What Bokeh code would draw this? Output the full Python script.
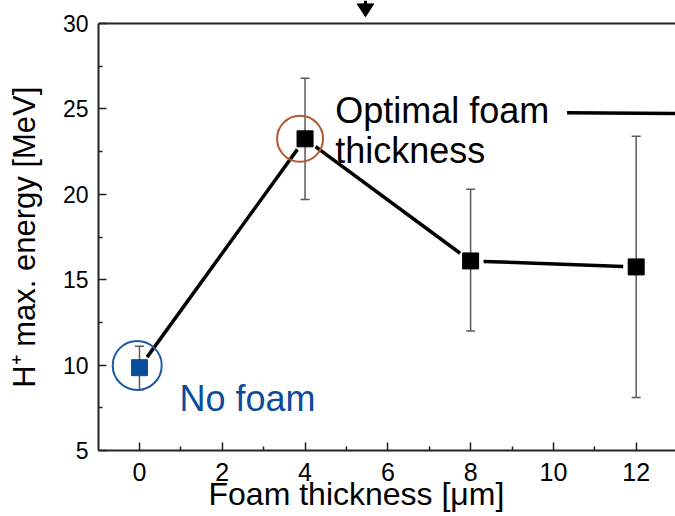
import numpy as np
from bokeh.plotting import figure
from bokeh.models import Range1d, FixedTicker, Label, Title
from bokeh.embed import file_html
from bokeh.resources import INLINE

# ---- data ----
thickness = [0, 4, 8, 12]
energy = [9.85, 23.25, 16.1, 15.75]
err_upper = [11.1, 26.8, 20.3, 23.4]
err_lower = [8.55, 19.7, 12.0, 8.1]
marker_colors = ["#0b4c9c", "black", "black", "black"]

x_ticks = [0, 2, 4, 6, 8, 10, 12]
x_minor = [1, 3, 5, 7, 9, 11]
y_ticks = [5, 10, 15, 20, 25, 30]
y_minor = [7.5, 12.5, 17.5, 22.5, 27.5]

highlight_x = [-0.055, 3.88]
highlight_y = [9.98, 23.25]
highlight_colors = ["#1d5aa0", "#b8582e"]
highlight_sizes = [49, 46]

arrow_x = 5.46

FONT = "Liberation Sans"

# ---- layout ----
W, H = 675, 516
BL, BB = 98, 66
FW, FH = W - BL, H - BB
X0, X1 = -0.99, 12.95
Y0, Y1 = 5.0, 31.35
kx = FW / (X1 - X0)
ky = FH / (Y1 - Y0)

p = figure(width=W, height=H, x_range=Range1d(X0, X1), y_range=Range1d(Y0, Y1),
           output_backend="svg", toolbar_location=None,
           min_border_left=BL, min_border_bottom=BB, min_border_top=0, min_border_right=0)
p.outline_line_color = None
p.grid.visible = False

# top frame line
p.segment(x0=[X0], y0=[30], x1=[X1], y1=[30], line_color="#222222", line_width=2)

# arrow at top
p.patch([arrow_x - 0.2, arrow_x + 0.2, arrow_x], [31.15, 31.15, 30.40], color="black")
p.segment(x0=[arrow_x], y0=[Y1], x1=[arrow_x], y1=[31.08], line_color="black", line_width=3)

# error bars
eb_color = "#5a5a5a"
p.segment(x0=thickness, y0=err_lower, x1=thickness, y1=err_upper, line_color=eb_color, line_width=1.5)
p.scatter(thickness, err_upper, marker="dash", size=9, line_color=eb_color, line_width=1.5)
p.scatter(thickness, err_lower, marker="dash", size=9, line_color=eb_color, line_width=1.5)

# connecting line with gaps at markers
gap = 13.0
sx0, sy0, sx1, sy1 = [], [], [], []
for i in range(len(thickness) - 1):
    ax_, ay_ = thickness[i] * kx, energy[i] * ky
    bx_, by_ = thickness[i + 1] * kx, energy[i + 1] * ky
    d = np.hypot(bx_ - ax_, by_ - ay_)
    ux, uy = (bx_ - ax_) / d, (by_ - ay_) / d
    sx0.append((ax_ + ux * gap) / kx); sy0.append((ay_ + uy * gap) / ky)
    sx1.append((bx_ - ux * gap) / kx); sy1.append((by_ - uy * gap) / ky)
p.segment(x0=sx0, y0=sy0, x1=sx1, y1=sy1, line_color="black", line_width=3.5)

# highlight circles
p.scatter(highlight_x, highlight_y, marker="circle", size=highlight_sizes,
          fill_color=None, line_color=highlight_colors, line_width=2)

# markers
p.scatter(thickness, energy, marker="square", size=16,
          fill_color=marker_colors, line_color=marker_colors)

# annotation line at right
p.segment(x0=[10.33], y0=[24.77], x1=[13.3], y1=[24.72], line_color="black", line_width=3.5)

# axes
for ax in (p.xaxis[0], p.yaxis[0]):
    ax.axis_line_width = 2
    ax.axis_line_color = "#222222"
    ax.major_tick_in = 8
    ax.major_tick_out = 0
    ax.minor_tick_in = 4
    ax.minor_tick_out = 0
    ax.major_tick_line_width = 1.5
    ax.minor_tick_line_width = 1.5
    ax.major_tick_line_color = "#222222"
    ax.minor_tick_line_color = "#222222"
    ax.major_label_text_font = FONT
    ax.major_label_text_color = "black"
    ax.axis_label_text_font = FONT
    ax.axis_label_text_font_style = "normal"
    ax.axis_label_text_color = "black"

p.xaxis[0].ticker = FixedTicker(ticks=x_ticks, minor_ticks=x_minor)
p.xaxis[0].major_label_text_font_size = "25px"
p.xaxis[0].major_label_standoff = 12

p.yaxis[0].ticker = FixedTicker(ticks=y_ticks, minor_ticks=y_minor)
p.yaxis[0].bounds = (5, 30)
p.yaxis[0].major_label_text_font_size = "23px"
p.yaxis[0].major_label_standoff = 10
# trailing non-breaking/thin spaces keep the label centred on the 5–30 axis span
p.yaxis[0].axis_label = "H⁺ max. energy [MeV]" + "\u00a0\u00a0\u2009"
p.yaxis[0].axis_label_text_font_size = "31px"
p.yaxis[0].axis_label_standoff = 18

# x axis title, offset like the original
xlab = Title(text="Foam thickness [μm]", align="left", offset=110, vertical_align="top",
             standoff=-16, text_font=FONT, text_font_size="32px",
             text_font_style="normal", text_color="black")
p.add_layout(xlab, "below")

# annotations
p.add_layout(Label(x=4.73, y=24.9, text="Optimal foam", text_font=FONT,
                   text_font_size="36px", text_color="black", text_baseline="alphabetic"))
p.add_layout(Label(x=4.73, y=22.56, text="thickness", text_font=FONT,
                   text_font_size="36px", text_color="black", text_baseline="alphabetic"))
p.add_layout(Label(x=0.966, y=8.03, text="No foam", text_font=FONT,
                   text_font_size="36px", text_color="#0b4c9c", text_baseline="alphabetic"))

open("out.html", "w").write(file_html(p, INLINE))
